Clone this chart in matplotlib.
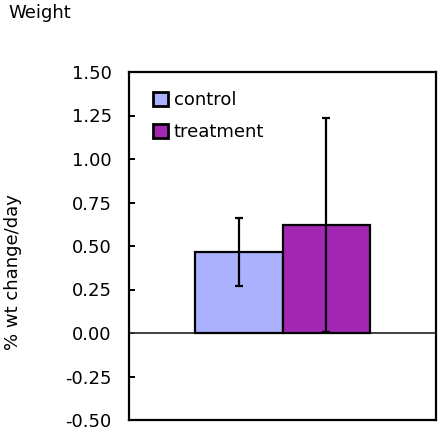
import matplotlib
matplotlib.use("Agg")
import matplotlib.pyplot as plt
import numpy as np

plt.rcParams['font.family'] = ['DejaVu Sans']

# Data
series = ["control", "treatment"]
values = [0.466, 0.62]
errors = [0.195, 0.615]
colors = ["#ABB1FE", "#A427B3"]
yticks = [-0.50, -0.25, 0.00, 0.25, 0.50, 0.75, 1.00, 1.25, 1.50]
title = "Weight"
ylabel = "% wt change/day"

fig = plt.figure(figsize=(4.40, 4.34), dpi=100)
ax = fig.add_axes([129/440, 14/434, 307/440, 348/434])

width = 0.285
offsets = [-width/2, width/2]
for s, v, e, c, o in zip(series, values, errors, colors, offsets):
    ax.bar(o, v, width=width, color=c, edgecolor="black", linewidth=1.6,
           label=s, zorder=3)
    ax.errorbar(o, v, yerr=e, fmt="none", ecolor="black", elinewidth=1.6,
                capsize=3.2, capthick=1.6, zorder=4)

ax.axhline(0, color="#333333", linewidth=1.3, zorder=2)

ax.set_xlim(-0.5, 0.5)
ax.set_ylim(-0.5, 1.5)
ax.set_yticks(yticks)
ax.set_yticklabels([f"{t:.2f}" for t in yticks], fontsize=13)
ax.set_xticks([])
ax.tick_params(axis="y", direction="in", length=4.3, width=1.4, pad=12.5)
for sp in ax.spines.values():
    sp.set_linewidth(1.6)
    sp.set_color("black")

fig.text(13/440, 1 - 272.5/434, ylabel, fontsize=13, rotation=90,
         ha="center", va="center")

fig.text(8/440, 1 - 18/434, title, fontsize=13, va="baseline", ha="left")

leg = ax.legend(loc="upper left", bbox_to_anchor=(24/307, 1 - 19/348),
                frameon=False, fontsize=13, borderaxespad=0, borderpad=0,
                handlelength=0.85, handleheight=0.85, handletextpad=0.3,
                labelspacing=0.78)
for h in leg.legend_handles:
    h.set_linewidth(2.0)

fig.savefig("out.png", dpi=100)
